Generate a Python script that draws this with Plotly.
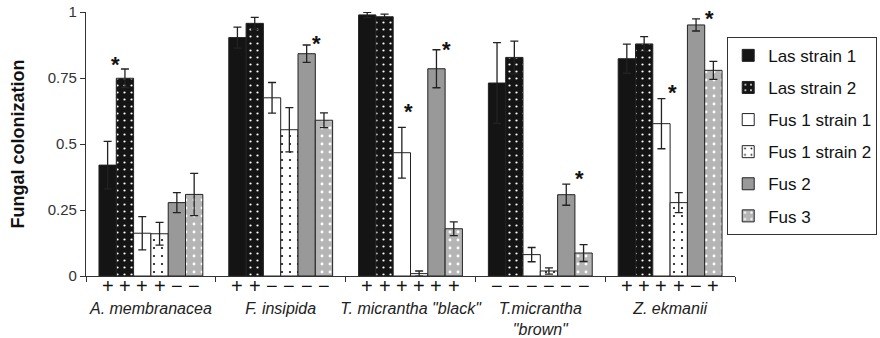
import plotly.graph_objects as go

# ---------------- data ----------------
categories = ['A. membranacea', 'F. insipida', 'T. micrantha "black"',
              'T.micrantha "brown"', 'Z. ekmanii']
tick_labels = ['<i>A. membranacea</i>', '<i>F. insipida</i>',
               '<i>T. micrantha "black"</i>', '<i>T.micrantha<br>"brown"</i>',
               '<i>Z. ekmanii</i>']
series_names = ['Las strain 1', 'Las strain 2', 'Fus 1 strain 1',
                'Fus 1 strain 2', 'Fus 2', 'Fus 3']

las1 = [0.42, 0.903, 0.989, 0.731, 0.823]
las1_err = [0.09, 0.04, 0.01, 0.153, 0.055]
las2 = [0.749, 0.957, 0.982, 0.828, 0.879]
las2_err = [0.035, 0.023, 0.01, 0.062, 0.028]
fus1s1 = [0.162, 0.675, 0.467, 0.081, 0.577]
fus1s1_err = [0.063, 0.058, 0.096, 0.027, 0.095]
fus1s2 = [0.16, 0.554, 0.009, 0.019, 0.278]
fus1s2_err = [0.043, 0.084, 0.01, 0.012, 0.038]
fus2 = [0.278, 0.842, 0.785, 0.308, 0.951]
fus2_err = [0.038, 0.033, 0.072, 0.04, 0.023]
fus3 = [0.309, 0.590, 0.179, 0.087, 0.779]
fus3_err = [0.08, 0.028, 0.026, 0.032, 0.034]

# presence (+) / absence (−) under each bar
signs = [
    ['+', '+', '+', '+', '−', '−'],
    ['+', '+', '−', '−', '−', '−'],
    ['+', '+', '+', '+', '+', '+'],
    ['−', '−', '−', '−', '−', '−'],
    ['+', '+', '+', '+', '−', '+'],
]

# significance asterisks: category index, series index, height
star_cat = [0, 1, 2, 2, 3, 4, 4]
star_series = [1, 4, 2, 4, 4, 2, 4]
star_y = [0.818, 0.894, 0.640, 0.875, 0.383, 0.712, 0.992]
star_dx = [-9, 10, 7, 10, 13, 11, 13]

y_tick_vals = [0, 0.25, 0.5, 0.75, 1]
y_tick_text = ['0', '0.25', '0.5', '0.75', '1']

values = [las1, las2, fus1s1, fus1s2, fus2, fus3]
errors = [las1_err, las2_err, fus1s1_err, fus1s2_err, fus2_err, fus3_err]

# ---------------- styles ----------------
FONT = 'Arial, Liberation Sans, sans-serif'
EDGE = '#222222'
styles = [
    dict(color='#141414'),
    dict(color='#141414', pattern=dict(shape='.', bgcolor='#141414', fgcolor='#ffffff',
                                       size=7, solidity=0.08, fillmode='replace')),
    dict(color='#ffffff'),
    dict(color='#ffffff', pattern=dict(shape='.', bgcolor='#ffffff', fgcolor='#111111',
                                       size=8, solidity=0.06, fillmode='replace')),
    dict(color='#999999'),
    dict(color='#b5b5b5', pattern=dict(shape='.', bgcolor='#b5b5b5', fgcolor='#ffffff',
                                       size=8, solidity=0.1, fillmode='replace')),
]

fig = go.Figure()
for j, name in enumerate(series_names):
    st = styles[j]
    marker = dict(color=st['color'], line=dict(color=EDGE, width=1))
    if 'pattern' in st:
        marker['pattern'] = st['pattern']
    fig.add_trace(go.Bar(
        name=name, x=categories, y=values[j],
        legendgroup=name,
        marker=marker,
        error_y=dict(type='data', array=errors[j], visible=True,
                     color='#222222', thickness=1.3, width=4),
    ))

n_series = len(series_names)
bargap = 0.2
w = (1 - bargap) / n_series


def bar_x(ci, sj):
    return ci - (1 - bargap) / 2 + (sj + 0.5) * w


annotations = []
for ci, row in enumerate(signs):
    for sj, s in enumerate(row):
        annotations.append(dict(
            x=bar_x(ci, sj), y=0, xref='x', yref='y', text=s, showarrow=False,
            yanchor='middle', yshift=-10,
            font=dict(family=FONT, size=20, color='#111111')))

for k in range(len(star_cat)):
    annotations.append(dict(
        x=bar_x(star_cat[k], star_series[k]), y=star_y[k], xref='x', yref='y',
        text='<b>*</b>', showarrow=False, xshift=star_dx[k], yshift=-4,
        yanchor='middle',
        font=dict(family=FONT, size=22, color='#111111')))

fig.update_layout(
    width=880, height=338,
    margin=dict(l=86, r=145, t=12, b=62, autoexpand=False),
    paper_bgcolor='white', plot_bgcolor='white',
    barmode='group', bargap=bargap, bargroupgap=0,
    font=dict(family=FONT, color='#222222'),
    showlegend=True,
    legend=dict(x=0.988, y=0.906, xanchor='left', yanchor='top',
                font=dict(family=FONT, size=17, color='#111111'),
                bordercolor='#333333', borderwidth=1,
                traceorder='grouped', tracegroupgap=7,
                bgcolor='white'),
    annotations=annotations,
)

fig.update_xaxes(
    tickmode='array', tickvals=categories, ticktext=tick_labels,
    tickangle=0, automargin=False,
    tickson='boundaries', ticks='outside', ticklen=5, tickcolor='#333333',
    showline=True, linecolor='#333333', linewidth=1.3,
    tickfont=dict(family=FONT, size=16, color='#222222'),
    ticklabelstandoff=18,
    showgrid=False, zeroline=False,
)
fig.update_yaxes(
    range=[0, 1], tickmode='array', tickvals=y_tick_vals, ticktext=y_tick_text,
    automargin=False, ticklabeloverflow='allow',
    ticks='outside', ticklen=5, tickcolor='#333333',
    showline=True, linecolor='#333333', linewidth=1.3,
    tickfont=dict(family=FONT, size=15, color='#333333'),
    title=dict(text='<b>Fungal colonization</b>', standoff=18,
               font=dict(family=FONT, size=18, color='#111111')),
    showgrid=False, zeroline=False,
)

# remove the default 8px page margin so the 880x338 figure fills the window
fig.write_html('out.html',
               config={'displayModeBar': False},
               post_script="document.body.style.margin='0';"
                           "document.body.style.overflow='hidden';")
